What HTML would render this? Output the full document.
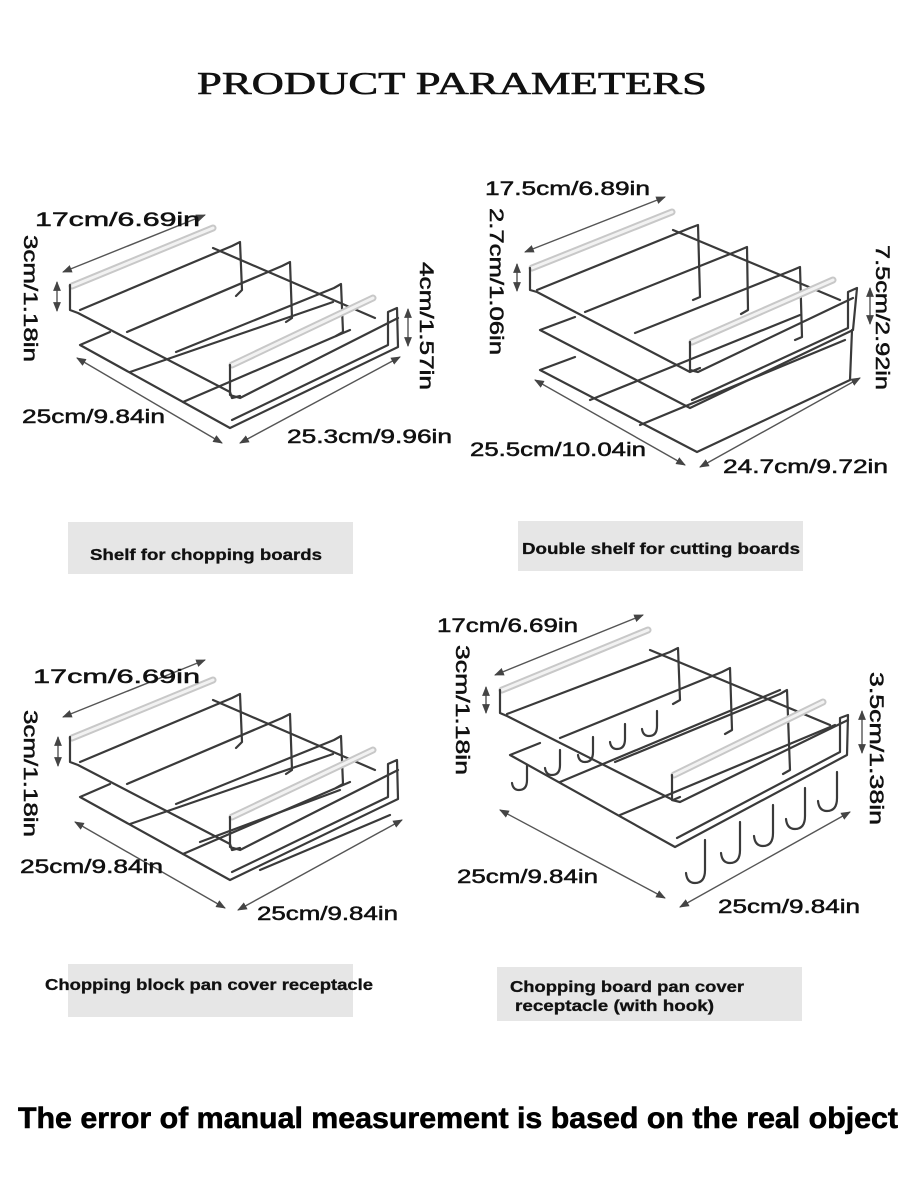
<!DOCTYPE html>
<html><head><meta charset="utf-8"><style>
html,body{margin:0;padding:0;background:#fff;width:900px;height:1198px;overflow:hidden}
svg{display:block}
.w{fill:none;stroke:#3a3a3a;stroke-width:2.2;stroke-linejoin:round;stroke-linecap:round}
.bar{fill:none;stroke:#c8c8c8;stroke-width:7;stroke-linecap:round}
.barin{fill:none;stroke:#f2f2f2;stroke-width:3;stroke-linecap:round}
.ar{fill:none;stroke:#555;stroke-width:1.4}
.lbl{font-family:"Liberation Sans",Arial,sans-serif;font-size:19px;fill:#111;stroke:#111;stroke-width:0.5}
.cap{font-family:"Liberation Sans Narrow","Liberation Sans",sans-serif;font-weight:bold;font-size:16px;fill:#111;stroke:#111;stroke-width:0.3}
</style></head><body>
<svg width="900" height="1198" viewBox="0 0 900 1198" xmlns="http://www.w3.org/2000/svg">
<defs>
<marker id="ah" viewBox="0 0 10 10" refX="9" refY="5" markerWidth="7" markerHeight="7" orient="auto-start-reverse"><path d="M0,1 L10,5 L0,9 z" fill="#444"/></marker>
<g id="rackA">
  <polyline class="w" points="110,332 80,345 230,428 398,347 397,308 388,312 388,345 232,420"/>
  <line class="w" x1="130" y1="372" x2="333" y2="302"/>
  <line class="w" x1="183" y1="402" x2="350" y2="330"/>
  <line class="bar" x1="72" y1="286" x2="213" y2="228"/>
  <line class="barin" x1="72" y1="286" x2="213" y2="228"/>
  <polyline class="w" points="70,285 70,310 78,313 230,392 232,398 240,396"/>
  <polyline class="w" points="80,310 232,246 240,242 242,290 236,296"/>
  <polyline class="w" points="127,332 282,266 290,262 292,318 286,322"/>
  <polyline class="w" points="176,352 334,288 341,284 343,332 336,336"/>
  <line class="w" x1="213" y1="248" x2="375" y2="318"/>
  <line class="bar" x1="232" y1="365" x2="373" y2="298"/>
  <line class="barin" x1="232" y1="365" x2="373" y2="298"/>
  <polyline class="w" points="230,365 230,395 240,398 398,318"/>
</g>
</defs>

<text x="197" y="94" font-family="'Liberation Serif',serif" font-size="32" fill="#111" stroke="#111" stroke-width="0.6" textLength="510" lengthAdjust="spacingAndGlyphs">PRODUCT PARAMETERS</text>

<use href="#rackA"/>
<line class="ar" x1="63" y1="272" x2="205" y2="215" marker-start="url(#ah)" marker-end="url(#ah)"/>
<line class="ar" x1="77" y1="358" x2="222" y2="443" marker-start="url(#ah)" marker-end="url(#ah)"/>
<line class="ar" x1="240" y1="443" x2="400" y2="357" marker-start="url(#ah)" marker-end="url(#ah)"/>
<line class="ar" x1="57" y1="282" x2="57" y2="311" marker-start="url(#ah)" marker-end="url(#ah)"/>
<line class="ar" x1="408" y1="309" x2="408" y2="346" marker-start="url(#ah)" marker-end="url(#ah)"/>
<text class="lbl" x="35" y="226" textLength="165" lengthAdjust="spacingAndGlyphs">17cm/6.69in</text>
<text class="lbl" transform="translate(24,235) rotate(90)" textLength="127" lengthAdjust="spacingAndGlyphs">3cm/1.18in</text>
<text class="lbl" x="22" y="423" textLength="143" lengthAdjust="spacingAndGlyphs">25cm/9.84in</text>
<text class="lbl" x="287" y="443" textLength="165" lengthAdjust="spacingAndGlyphs">25.3cm/9.96in</text>
<text class="lbl" transform="translate(420,262) rotate(90)" textLength="128" lengthAdjust="spacingAndGlyphs">4cm/1.57in</text>

<rect x="68" y="522" width="285" height="52" fill="#e6e6e6"/>
<text class="cap" x="90" y="560" textLength="232" lengthAdjust="spacingAndGlyphs">Shelf for chopping boards</text>

<g>
  <polyline class="w" points="575,357 540,370 697,452 850,380 852,330"/>
  <polyline class="w" points="575,317 540,330 690,408 853,330 857,288 848,292 848,328 692,400"/>
  <line class="w" x1="590" y1="400" x2="800" y2="315"/>
  <line class="w" x1="640" y1="425" x2="845" y2="340"/>
  <line class="bar" x1="532" y1="268" x2="672" y2="212"/>
  <line class="barin" x1="532" y1="268" x2="672" y2="212"/>
  <polyline class="w" points="530,268 530,290 537,292 690,372 700,368"/>
  <polyline class="w" points="537,290 690,228 698,225 700,297 693,300"/>
  <polyline class="w" points="585,312 740,250 747,247 748,310 741,314"/>
  <polyline class="w" points="635,333 793,270 800,267 802,337 795,340"/>
  <line class="w" x1="673" y1="230" x2="840" y2="300"/>
  <line class="bar" x1="692" y1="342" x2="833" y2="280"/>
  <line class="barin" x1="692" y1="342" x2="833" y2="280"/>
  <polyline class="w" points="690,342 690,370 698,372 853,298"/>
</g>
<line class="ar" x1="525" y1="252" x2="665" y2="197" marker-start="url(#ah)" marker-end="url(#ah)"/>
<line class="ar" x1="535" y1="380" x2="685" y2="465" marker-start="url(#ah)" marker-end="url(#ah)"/>
<line class="ar" x1="700" y1="467" x2="860" y2="378" marker-start="url(#ah)" marker-end="url(#ah)"/>
<line class="ar" x1="517" y1="264" x2="517" y2="291" marker-start="url(#ah)" marker-end="url(#ah)"/>
<line class="ar" x1="870" y1="288" x2="870" y2="324" marker-start="url(#ah)" marker-end="url(#ah)"/>
<text class="lbl" x="485" y="195" textLength="165" lengthAdjust="spacingAndGlyphs">17.5cm/6.89in</text>
<text class="lbl" transform="translate(490,208) rotate(90)" textLength="147" lengthAdjust="spacingAndGlyphs">2.7cm/1.06in</text>
<text class="lbl" x="470" y="456" textLength="176" lengthAdjust="spacingAndGlyphs">25.5cm/10.04in</text>
<text class="lbl" x="723" y="473" textLength="165" lengthAdjust="spacingAndGlyphs">24.7cm/9.72in</text>
<text class="lbl" transform="translate(876,245) rotate(90)" textLength="145" lengthAdjust="spacingAndGlyphs">7.5cm/2.92in</text>

<rect x="518" y="521" width="285" height="50" fill="#e6e6e6"/>
<text class="cap" x="522" y="554" textLength="278" lengthAdjust="spacingAndGlyphs">Double shelf for cutting boards</text>

<use href="#rackA" transform="translate(0,452)"/>
<line class="w" x1="200" y1="842" x2="340" y2="790"/>
<line class="w" x1="260" y1="870" x2="390" y2="815"/>
<line class="ar" x1="63" y1="717" x2="205" y2="660" marker-start="url(#ah)" marker-end="url(#ah)"/>
<line class="ar" x1="75" y1="822" x2="225" y2="908" marker-start="url(#ah)" marker-end="url(#ah)"/>
<line class="ar" x1="238" y1="910" x2="402" y2="820" marker-start="url(#ah)" marker-end="url(#ah)"/>
<line class="ar" x1="58" y1="737" x2="58" y2="766" marker-start="url(#ah)" marker-end="url(#ah)"/>
<text class="lbl" x="33" y="683" textLength="167" lengthAdjust="spacingAndGlyphs">17cm/6.69in</text>
<text class="lbl" transform="translate(24,710) rotate(90)" textLength="127" lengthAdjust="spacingAndGlyphs">3cm/1.18in</text>
<text class="lbl" x="20" y="873" textLength="143" lengthAdjust="spacingAndGlyphs">25cm/9.84in</text>
<text class="lbl" x="257" y="920" textLength="141" lengthAdjust="spacingAndGlyphs">25cm/9.84in</text>

<rect x="68" y="964" width="285" height="53" fill="#e6e6e6"/>
<text class="cap" x="45" y="990" textLength="328" lengthAdjust="spacingAndGlyphs">Chopping block pan cover receptacle</text>

<g>
  <polyline class="w" points="540,743 510,755 675,847 847,755 848,715 840,718 840,752 677,838"/>
  <line class="w" x1="560" y1="782" x2="780" y2="690"/>
  <line class="w" x1="620" y1="815" x2="835" y2="725"/>
  <line class="bar" x1="502" y1="690" x2="648" y2="630"/>
  <line class="barin" x1="502" y1="690" x2="648" y2="630"/>
  <polyline class="w" points="500,690 500,713 507,716 673,800 680,797"/>
  <polyline class="w" points="507,714 670,652 678,648 680,700 673,704"/>
  <polyline class="w" points="560,738 722,672 730,668 732,730 725,734"/>
  <polyline class="w" points="615,762 780,694 787,690 790,770 783,774"/>
  <line class="w" x1="650" y1="650" x2="830" y2="725"/>
  <line class="bar" x1="674" y1="775" x2="823" y2="702"/>
  <line class="barin" x1="674" y1="775" x2="823" y2="702"/>
  <polyline class="w" points="672,775 672,800 680,802 848,720"/>
  <path class="w" d="M527,765 v15 q0,10 -8,10 q-6,0 -7,-7"/>
  <path class="w" d="M560,750 v15 q0,10 -8,10 q-6,0 -7,-7"/>
  <path class="w" d="M593,737 v15 q0,10 -8,10 q-6,0 -7,-7"/>
  <path class="w" d="M625,724 v15 q0,10 -8,10 q-6,0 -7,-7"/>
  <path class="w" d="M657,711 v15 q0,10 -8,10 q-6,0 -7,-7"/>
  <path class="w" d="M705,840 v30 q0,13 -10,13 q-8,0 -9,-10"/>
  <path class="w" d="M740,822 v28 q0,13 -10,13 q-8,0 -9,-10"/>
  <path class="w" d="M773,805 v28 q0,13 -10,13 q-8,0 -9,-10"/>
  <path class="w" d="M805,788 v28 q0,13 -10,13 q-8,0 -9,-10"/>
  <path class="w" d="M837,772 v26 q0,13 -10,13 q-8,0 -9,-10"/>
</g>
<line class="ar" x1="495" y1="675" x2="643" y2="615" marker-start="url(#ah)" marker-end="url(#ah)"/>
<line class="ar" x1="500" y1="810" x2="665" y2="898" marker-start="url(#ah)" marker-end="url(#ah)"/>
<line class="ar" x1="680" y1="907" x2="850" y2="812" marker-start="url(#ah)" marker-end="url(#ah)"/>
<line class="ar" x1="486" y1="687" x2="486" y2="713" marker-start="url(#ah)" marker-end="url(#ah)"/>
<line class="ar" x1="862" y1="711" x2="862" y2="753" marker-start="url(#ah)" marker-end="url(#ah)"/>
<text class="lbl" x="437" y="632" textLength="141" lengthAdjust="spacingAndGlyphs">17cm/6.69in</text>
<text class="lbl" transform="translate(456,645) rotate(90)" textLength="130" lengthAdjust="spacingAndGlyphs">3cm/1.18in</text>
<text class="lbl" x="457" y="883" textLength="141" lengthAdjust="spacingAndGlyphs">25cm/9.84in</text>
<text class="lbl" x="718" y="913" textLength="142" lengthAdjust="spacingAndGlyphs">25cm/9.84in</text>
<text class="lbl" transform="translate(870,672) rotate(90)" textLength="153" lengthAdjust="spacingAndGlyphs">3.5cm/1.38in</text>

<rect x="497" y="967" width="305" height="54" fill="#e6e6e6"/>
<text class="cap" x="510" y="992" textLength="234" lengthAdjust="spacingAndGlyphs">Chopping board pan cover</text>
<text class="cap" x="515" y="1011" textLength="199" lengthAdjust="spacingAndGlyphs">receptacle (with hook)</text>

<text x="18" y="1128" font-family="'Liberation Sans Narrow','Liberation Sans',sans-serif" font-weight="bold" font-size="30" fill="#000" stroke="#000" stroke-width="0.6" textLength="880" lengthAdjust="spacingAndGlyphs">The error of manual measurement is based on the real object</text>
</svg>
</body></html>
